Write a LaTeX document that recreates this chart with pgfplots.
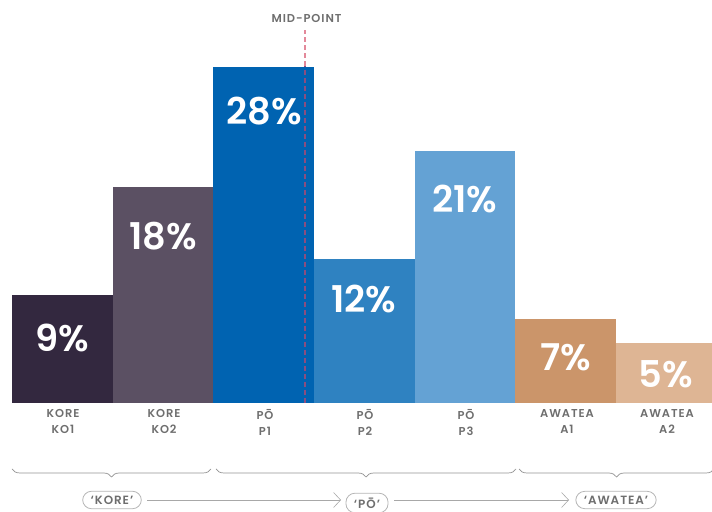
\documentclass[border=0pt]{standalone}
\usepackage{pgfplots}
\pgfplotsset{compat=1.18}
\usepackage{fontspec}
\setmainfont{Poppins}
\newfontfamily\bigfont{Poppins}[UprightFont=*-SemiBold]
\newfontfamily\smallfont{Poppins}[UprightFont=*-SemiBold,LetterSpace=8]
\usetikzlibrary{decorations.pathreplacing,arrows.meta}
\definecolor{cA}{HTML}{33283F}
\definecolor{cB}{HTML}{5B5063}
\definecolor{cC}{HTML}{0063B1}
\definecolor{cD}{HTML}{2F82C1}
\definecolor{cE}{HTML}{64A2D4}
\definecolor{cF}{HTML}{CB956A}
\definecolor{cG}{HTML}{DEB594}
\definecolor{lab}{HTML}{6E6E6E}
\definecolor{midpink}{HTML}{E3899A}
\definecolor{midpurple}{HTML}{8A4E80}
\begin{document}
\begin{tikzpicture}[x=1bp,y=1bp]
\useasboundingbox (0,0) rectangle (712,512);
\begin{axis}[
  at={(12bp,109bp)}, anchor=south west,
  scale only axis, width=700bp, height=336bp,
  xmin=0, xmax=6.953, ymin=0, ymax=28,
  axis lines=none, ticks=none,
  clip=true,
]
\addplot[ybar, bar width=1, bar shift=0pt, fill=cA, draw=none] coordinates {(0.5,9)};
\addplot[ybar, bar width=1, bar shift=0pt, fill=cB, draw=none] coordinates {(1.5,18)};
\addplot[ybar, bar width=1, bar shift=0pt, fill=cC, draw=none] coordinates {(2.5,28)};
\addplot[ybar, bar width=1, bar shift=0pt, fill=cD, draw=none] coordinates {(3.5,12)};
\addplot[ybar, bar width=1, bar shift=0pt, fill=cE, draw=none] coordinates {(4.5,21)};
\addplot[ybar, bar width=1, bar shift=0pt, fill=cF, draw=none] coordinates {(5.5,7)};
\addplot[ybar, bar width=1, bar shift=0pt, fill=cG, draw=none] coordinates {(6.5,5)};
\end{axis}
% mid-point line
\draw[color=midpink, line width=1.1bp, dash pattern=on 5bp off 3bp] (305,446) -- (305,482);
\draw[color=midpurple, line width=1.1bp, dash pattern=on 5bp off 3bp] (305,109) -- (305,446);
\node[text=lab, font=\smallfont\fontsize{11.5}{13}\selectfont] at (306.5,494) {MID-POINT};
% values
\begin{scope}[every node/.style={text=white, font=\bigfont\fontsize{37}{42}\selectfont}]
\node at (62,174) {9\%};
\node at (163,276) {18\%};
\node at (264,401) {28\%};
\node at (364,213) {12\%};
\node at (465,313) {21\%};
\node at (566,155) {7\%};
\node at (666,138) {5\%};
\end{scope}
% category labels
\begin{scope}[every node/.style={text=lab, align=center, font=\smallfont\fontsize{11.5}{16}\selectfont, anchor=north}]
\node at (63,106) {KORE\\KO1};
\node at (164,106) {KORE\\KO2};
\node at (265,106) {PŌ\\P1};
\node at (365,106) {PŌ\\P2};
\node at (466,106) {PŌ\\P3};
\node at (567,106) {AWATEA\\A1};
\node at (667,106) {AWATEA\\A2};
\end{scope}
% braces
\begin{scope}[draw=lab!75, line width=0.7bp, decoration={brace, mirror, amplitude=8bp}]
\draw[decorate] (12,43) -- (211,43);
\draw[decorate] (216,43) -- (516,43);
\draw[decorate] (519,43) -- (714,43);
\end{scope}
% pills and arrows
\begin{scope}[every node/.style={text=lab, draw=lab!50, line width=0.8bp, rounded corners=9bp, inner xsep=8bp, inner ysep=4.5bp, font=\smallfont\fontsize{12}{13}\selectfont}]
\node (k) at (112,12) {‘KORE’};
\node (p) at (367,9) {‘PŌ’};
\node (a) at (616,12) {‘AWATEA’};
\end{scope}
\draw[draw=lab!60, line width=0.6bp, -{Straight Barb[length=7bp,width=15bp]}] (147,12) -- (341,12);
\draw[draw=lab!60, line width=0.6bp, -{Straight Barb[length=7bp,width=15bp]}] (394,12) -- (569,12);
\end{tikzpicture}
\end{document}
